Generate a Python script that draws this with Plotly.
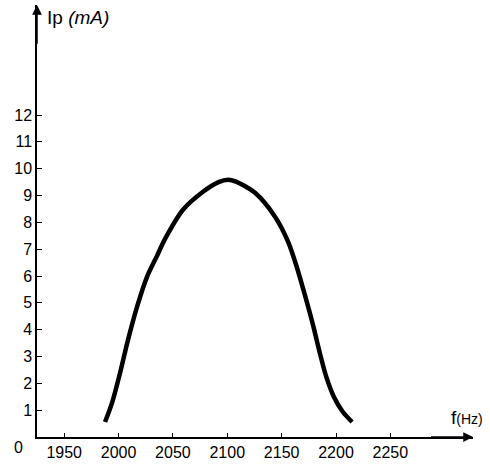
import plotly.graph_objects as go

freq_hz = [1987.6, 1994.0, 2001.4, 2008.7, 2017.0, 2026.2, 2035.4, 2043.0, 2059.3, 2077.7, 2092.0,
           2100.7, 2108.0, 2125.5, 2143.9, 2155.9, 2164.2, 2172.0, 2179.0, 2185.0, 2191.0,
           2198.0, 2206.0, 2214.8]
ip_ma = [0.56, 1.27, 2.39, 3.62, 4.85, 5.97, 6.75, 7.40, 8.47, 9.14, 9.50,
         9.59, 9.52, 9.10, 8.21, 7.28, 6.30, 5.20, 4.15, 3.15, 2.25,
         1.50, 0.95, 0.56]

x_ticks = [1950, 2000, 2050, 2100, 2150, 2200, 2250]
y_ticks = list(range(1, 13))

FONT = "Liberation Sans, Arial, sans-serif"
X0, X1 = 1925, 2326
Y0, Y1 = 0, 16.1

fig = go.Figure()
fig.add_trace(go.Scatter(
    x=freq_hz, y=ip_ma, mode="lines",
    line=dict(color="black", width=4.5, shape="spline", smoothing=0.8),
    hoverinfo="skip", showlegend=False,
))

fig.update_layout(
    width=490, height=466,
    margin=dict(l=37, r=17, t=5, b=29, autoexpand=False),
    paper_bgcolor="white", plot_bgcolor="white",
    font=dict(family=FONT, color="black", size=15),
    xaxis=dict(range=[X0, X1], tickvals=x_ticks, ticktext=[str(v) for v in x_ticks],
               ticks="inside", ticklen=4, tickwidth=1.2, tickcolor="black",
               showline=True, linecolor="black", linewidth=1.5,
               showgrid=False, zeroline=False, fixedrange=True, automargin=False,
               tickfont=dict(size=16, family=FONT)),
    yaxis=dict(range=[Y0, Y1], tickvals=y_ticks, ticktext=[str(v) for v in y_ticks],
               ticks="inside", ticklen=5, tickwidth=1.2, tickcolor="black",
               showline=True, linecolor="black", linewidth=1.5,
               showgrid=False, zeroline=False, fixedrange=True, automargin=False,
               tickfont=dict(size=16, family=FONT)),
)

# axis arrows
fig.add_annotation(x=X1, y=0, ax=X1 - 40, ay=0, xref="x", yref="y", axref="x", ayref="y",
                   text="", showarrow=True, arrowhead=2, arrowsize=1.3, arrowwidth=1.5,
                   arrowcolor="black")
fig.add_annotation(x=X0, y=Y1, ax=X0, ay=Y1 - 1.5, xref="x", yref="y", axref="x", ayref="y",
                   text="", showarrow=True, arrowhead=2, arrowsize=1.3, arrowwidth=1.5,
                   arrowcolor="black")

fig.add_annotation(x=8 / 436, y=1 - 13 / 432, xref="paper", yref="paper", xanchor="left", yanchor="middle",
                   text="Ip <i>(mA)</i>", showarrow=False, font=dict(size=19, family=FONT))
fig.add_annotation(x=1 + 12 / 436, y=20 / 432, xref="paper", yref="paper", xanchor="right", yanchor="middle",
                   text="f<span style='font-size:14px'>(Hz)</span>", showarrow=False,
                   font=dict(size=19, family=FONT))
fig.add_annotation(x=-19 / 436, y=-10 / 432, xref="paper", yref="paper", text="0", showarrow=False,
                   xanchor="center", yanchor="middle", font=dict(size=16, family=FONT))

fig.write_html("out.html", config={"displayModeBar": False},
               post_script="document.body.style.margin='0';")
